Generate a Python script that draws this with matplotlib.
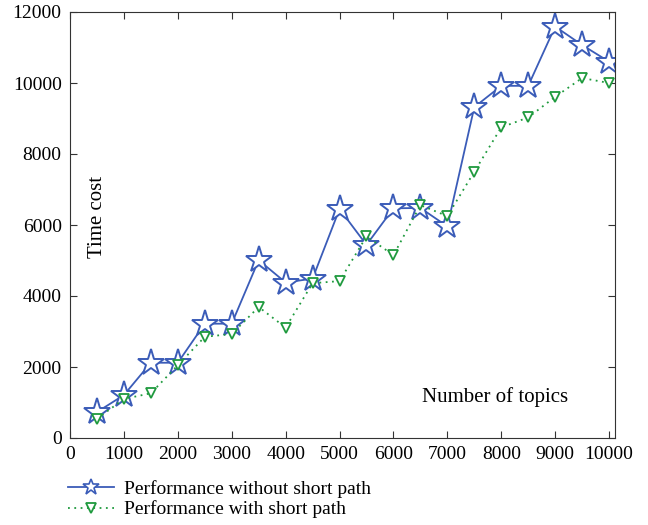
import numpy as np
import matplotlib
matplotlib.use("Agg")
import matplotlib.pyplot as plt

plt.rcParams["font.family"] = ["Liberation Serif", "DejaVu Serif"]

topics = [500, 1000, 1500, 2000, 2500, 3000, 3500, 4000, 4500, 5000,
          5500, 6000, 6500, 7000, 7500, 8000, 8500, 9000, 9500, 10000]
without_short = [730, 1210, 2120, 2120, 3220, 3220, 5010, 4380, 4490, 6450,
                 5440, 6470, 6480, 5960, 9320, 9920, 9920, 11590, 11070, 10600]
with_short = [540, 1100, 1260, 2050, 2850, 2930, 3690, 3110, 4360, 4420,
              5680, 5150, 6560, 6250, 7500, 8750, 9030, 9610, 10140, 10000]

BLUE = "#3b5cb8"
GREEN = "#1f9a3e"

fig = plt.figure(figsize=(6.48, 5.25), dpi=100)
ax = fig.add_axes([70 / 648, 1 - 438 / 525, 545 / 648, 426 / 525])

ax.plot(topics, without_short, color=BLUE, lw=1.3, marker="*", ms=20,
        mfc="white", mec=BLUE, mew=1.4, label="Performance without short path")
ax.plot(topics, with_short, color=GREEN, lw=1.3, ls=(0, (1, 2.5)), marker="v",
        ms=7, mfc="white", mec=GREEN, mew=1.3, label="Performance with short path")

ax.set_xlim(0, 10110)
ax.set_ylim(0, 12000)
ax.set_xticks(np.arange(0, 10001, 1000))
ax.set_yticks(np.arange(0, 12001, 2000))
ax.tick_params(direction="in", top=True, right=True, labelsize=14, length=5,
               color="#333333", pad=6)
for s in ax.spines.values():
    s.set_color("#333333")

ax.text(0.05, 0.52, "Time cost", transform=ax.transAxes, rotation=90,
        fontsize=15, ha="center", va="center")
ax.text(0.78, 0.095, "Number of topics", transform=ax.transAxes,
        fontsize=15, ha="center", va="center")

leg = fig.legend(loc="upper left", bbox_to_anchor=(60 / 648, 1 - 472 / 525),
                 frameon=False, fontsize=14, handlelength=2.4, labelspacing=0.15,
                 handletextpad=0.5, borderaxespad=0)
leg.legend_handles[0].set_markersize(12)
leg.legend_handles[0].set_markeredgewidth(1.2)

fig.savefig("out.png", dpi=100)
